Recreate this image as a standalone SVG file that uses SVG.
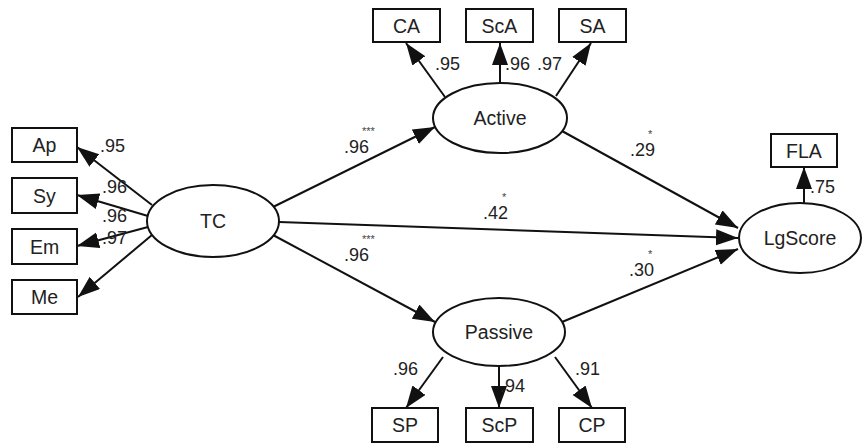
<svg xmlns="http://www.w3.org/2000/svg" width="862" height="446" viewBox="0 0 862 446">
  <style>
    .box { fill: #fff; stroke: #111; stroke-width: 2; }
    .lat { fill: #fff; stroke: #111; stroke-width: 2; }
    .lbl { font-family: "Liberation Sans", Arial, sans-serif; font-size: 19.5px; fill: #222; text-anchor: middle; dominant-baseline: central; }
    .coef { font-family: "Liberation Sans", Arial, sans-serif; font-size: 18px; fill: #222; }
    .sig { font-family: "Liberation Sans", Arial, sans-serif; font-size: 11px; fill: #444; }
    .edge { stroke: #111; stroke-width: 2; fill: none; marker-end: url(#arrow); }
  </style>
  <defs>
    <marker id="arrow" markerUnits="userSpaceOnUse" markerWidth="24" markerHeight="18" refX="22" refY="8" orient="auto">
      <path d="M0,0 L22,8 L0,16 z" fill="#111"/>
    </marker>
  </defs>
  <rect width="862" height="446" fill="#fff"/>

  <!-- connectors -->
  <g id="connectors">
    <line class="edge" x1="152" y1="205" x2="77" y2="147"/>
    <line class="edge" x1="148" y1="216" x2="77" y2="195"/>
    <line class="edge" x1="148" y1="227" x2="77" y2="246"/>
    <line class="edge" x1="152" y1="235" x2="78" y2="297"/>
    <line class="edge" x1="273" y1="207" x2="435" y2="127"/>
    <line class="edge" x1="279" y1="222" x2="738" y2="238"/>
    <line class="edge" x1="273" y1="235" x2="435" y2="322"/>
    <line class="edge" x1="562" y1="131" x2="738" y2="228"/>
    <line class="edge" x1="562" y1="322" x2="738" y2="249"/>
    <line class="edge" x1="445" y1="97" x2="406" y2="43"/>
    <line class="edge" x1="500" y1="83" x2="500" y2="43"/>
    <line class="edge" x1="556" y1="96" x2="591" y2="43"/>
    <line class="edge" x1="443" y1="357" x2="406" y2="408"/>
    <line class="edge" x1="499" y1="367" x2="499" y2="408"/>
    <line class="edge" x1="555" y1="357" x2="592" y2="408"/>
    <line class="edge" x1="804" y1="203" x2="804" y2="167"/>
  </g>

  <!-- coefficient labels -->
  <g id="coefficients">
    <text class="coef" x="100" y="152">.95</text>
    <text class="coef" x="102" y="193">.96</text>
    <text class="coef" x="102" y="222">.96</text>
    <text class="coef" x="102" y="244">.97</text>
    <text class="coef" x="435" y="70">.95</text>
    <text class="coef" x="505" y="70">.96</text>
    <text class="coef" x="537" y="70">.97</text>
    <text class="coef" x="393" y="375">.96</text>
    <text class="coef" x="500" y="392">.94</text>
    <text class="coef" x="575" y="375">.91</text>
    <text class="coef" x="810" y="193">.75</text>
    <text class="coef" x="344" y="153">.96</text>
    <text class="sig" x="362" y="135">***</text>
    <text class="coef" x="344" y="261">.96</text>
    <text class="sig" x="362" y="243">***</text>
    <text class="coef" x="483" y="219">.42</text>
    <text class="sig" x="502" y="201">*</text>
    <text class="coef" x="630" y="156">.29</text>
    <text class="sig" x="648" y="138">*</text>
    <text class="coef" x="629" y="276">.30</text>
    <text class="sig" x="648" y="258">*</text>
  </g>

  <!-- observed indicators -->
  <g id="Ap"><rect class="box" x="12" y="128" width="65" height="34"/><text class="lbl" x="44.5" y="145">Ap</text></g>
  <g id="Sy"><rect class="box" x="12" y="178" width="65" height="35"/><text class="lbl" x="44.5" y="195.5">Sy</text></g>
  <g id="Em"><rect class="box" x="12" y="229" width="65" height="35"/><text class="lbl" x="44.5" y="246.5">Em</text></g>
  <g id="Me"><rect class="box" x="12" y="280" width="65" height="34"/><text class="lbl" x="44.5" y="297">Me</text></g>
  <g id="CA"><rect class="box" x="373" y="9" width="67" height="33"/><text class="lbl" x="406.5" y="25.5">CA</text></g>
  <g id="ScA"><rect class="box" x="466" y="9" width="67" height="33"/><text class="lbl" x="499.5" y="25.5">ScA</text></g>
  <g id="SA"><rect class="box" x="559" y="9" width="67" height="33"/><text class="lbl" x="592.5" y="25.5">SA</text></g>
  <g id="SP"><rect class="box" x="372" y="408" width="66" height="34"/><text class="lbl" x="405" y="425">SP</text></g>
  <g id="ScP"><rect class="box" x="466" y="408" width="67" height="34"/><text class="lbl" x="499.5" y="425">ScP</text></g>
  <g id="CP"><rect class="box" x="559" y="408" width="66" height="34"/><text class="lbl" x="592" y="425">CP</text></g>
  <g id="FLA"><rect class="box" x="771" y="134" width="66" height="33"/><text class="lbl" x="804" y="150.5">FLA</text></g>

  <!-- latent constructs -->
  <g id="TC"><ellipse class="lat" cx="213" cy="221" rx="66" ry="36"/><text class="lbl" x="213" y="221">TC</text></g>
  <g id="Active"><ellipse class="lat" cx="500" cy="118" rx="67" ry="35"/><text class="lbl" x="500" y="118">Active</text></g>
  <g id="Passive"><ellipse class="lat" cx="499" cy="332" rx="66" ry="34"/><text class="lbl" x="499" y="332">Passive</text></g>
  <g id="LgScore"><ellipse class="lat" cx="800" cy="238" rx="61" ry="35"/><text class="lbl" x="800" y="238">LgScore</text></g>
</svg>
